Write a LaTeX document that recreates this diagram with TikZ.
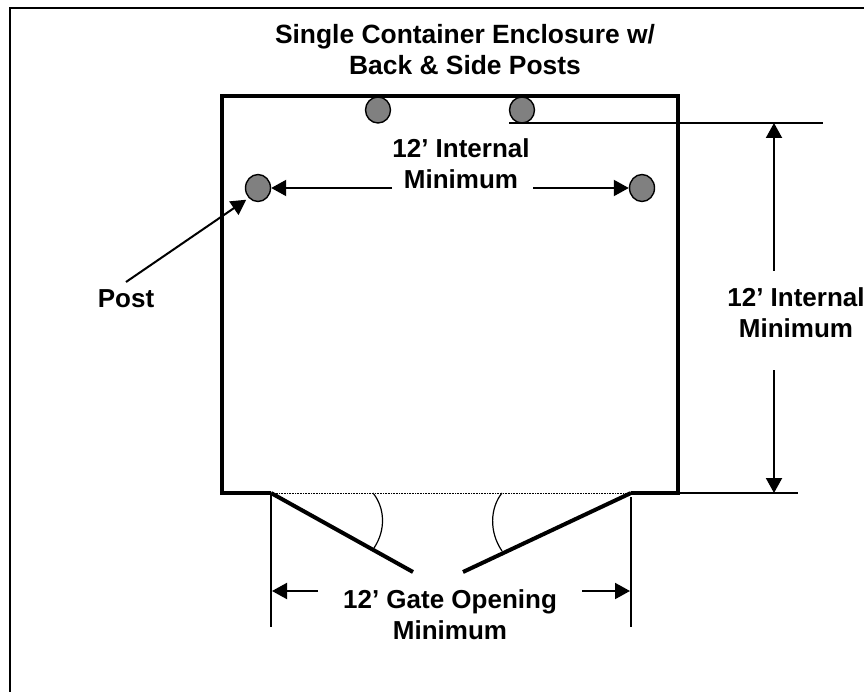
\documentclass[tikz,border=0pt]{standalone}
\usepackage{fontspec}
\setmainfont{Liberation Sans}
\usetikzlibrary{arrows.meta,shapes.geometric}
\tikzset{
  wall/.style={line width=4pt,line cap=butt,line join=miter},
  thin line/.style={line width=1.8pt},
  fine/.style={line width=1.2pt},
  dim/.style={line width=2pt,-{Triangle[length=15pt,width=16pt]}},
  postdot/.style={ellipse,draw=black,line width=1.4pt,fill=black!50,minimum width=25pt,inner sep=0pt,minimum height=26pt},
  lbl/.style={font=\fontsize{26}{31}\selectfont\bfseries,align=center,inner sep=0pt,text=black}
}
\begin{document}
\begin{tikzpicture}[x=1pt,y=-1pt]
\useasboundingbox (0,0) rectangle (864,692);
\draw[line width=2pt] (10,692) -- (10,8) -- (864,8);
\node[lbl,font=\fontsize{26.4}{31}\selectfont\bfseries] (title) at (465,50) {Single Container Enclosure w/\\Back \& Side Posts};
% named geometry
\coordinate (tl) at (222.3,96);
\coordinate (tr) at (678,96);
\coordinate (bl) at (222.3,493);
\coordinate (br) at (678,493);
\coordinate (gl) at (271,493);
\coordinate (gr) at (631,493);
\coordinate (gle) at (413,572);
\coordinate (gre) at (463,572);
% posts
\node[postdot] (p1) at (378,110) {};
\node[postdot] (p2) at (522,110) {};
\node[postdot,minimum height=27pt] (p3) at (258,188) {};
\node[postdot,minimum height=27pt] (p4) at (642,188) {};
\draw[wall] (gl) -- (bl) -- (tl) -- (tr) -- (br) -- (gr);
\draw[wall] (gl) -- (gle);
\draw[wall] (gr) -- (gre);
\draw[line width=0.6pt,densely dotted] (gl) -- (gr);
% labels
\node[lbl] (top) at (461,164) {12’ Internal\\Minimum};
\node[lbl] (post) at (126,299) {Post};
\node[lbl] (side) at (796,313) {12’ Internal\\Minimum};
\node[lbl] (gate) at (450,614.5) {12’ Gate Opening\\Minimum};
% dimension lines
\coordinate (ext1a) at (509,123);
\coordinate (ext1b) at (823,123);
\coordinate (ext2b) at (798,493);
\draw[thin line] (ext1a) -- (ext1b);
\draw[thin line] (br) -- (ext2b);
\coordinate (vu1) at (774,271);
\coordinate (vu2) at (774,123);
\coordinate (vd1) at (774,370);
\coordinate (vd2) at (774,493);
\draw[dim] (vu1) -- (vu2);
\draw[dim] (vd1) -- (vd2);
\coordinate (ha1) at (392,188);
\coordinate (ha2) at (533,188);
\draw[dim] (ha1) -- (p3);
\draw[dim] (ha2) -- (p4);
\coordinate (postS) at (126,282);
\draw[dim,shorten >=3pt] (postS) -- (p3.south west);
% gate
\coordinate (gv2) at (271,627);
\coordinate (gw1) at (631,497);
\coordinate (gw2) at (631,627);
\draw[thin line] (gl) -- (gv2);
\draw[thin line] (gw1) -- (gw2);
\coordinate (ga1) at (318,591);
\coordinate (ga2) at (272,591);
\coordinate (gb1) at (582,591);
\coordinate (gb2) at (630,591);
\draw[dim] (ga1) -- (ga2);
\draw[dim] (gb1) -- (gb2);
% angle arcs
\coordinate (a1s) at (373,493);
\coordinate (a1e) at (374,548);
\coordinate (a2s) at (502,493);
\coordinate (a2e) at (502,551);
\draw[fine] (a1s) .. controls (385,508) and (386,530) .. (a1e);
\draw[fine] (a2s) .. controls (490,508) and (489,532) .. (a2e);
\end{tikzpicture}
\end{document}
